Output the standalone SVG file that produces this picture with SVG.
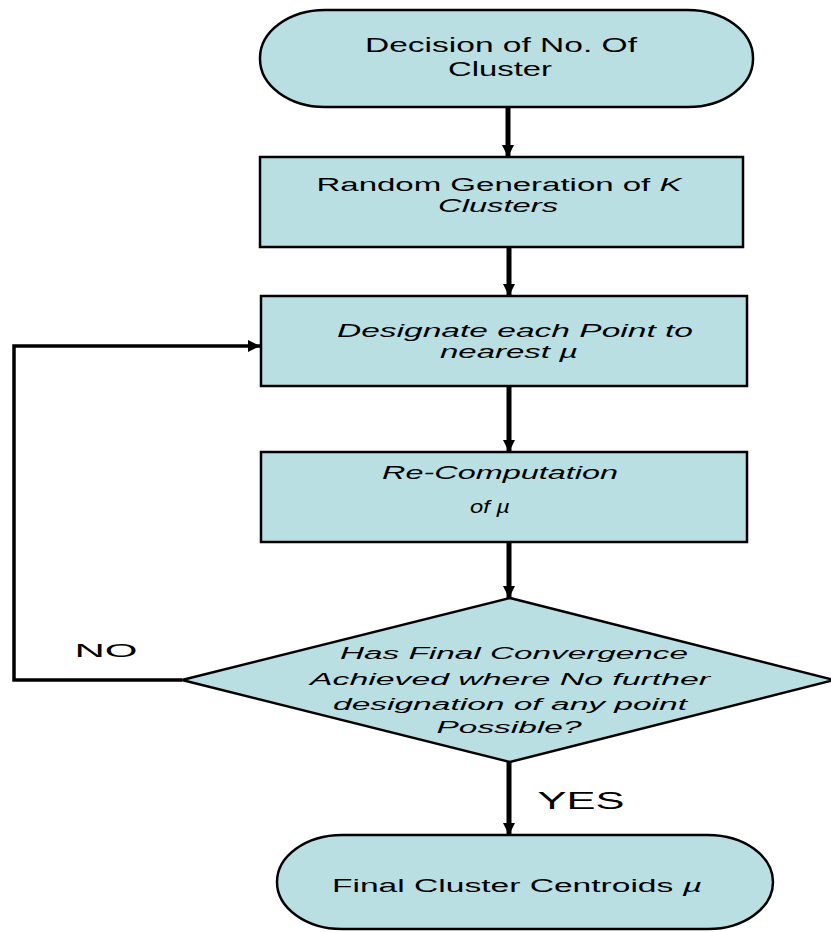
<svg xmlns="http://www.w3.org/2000/svg" width="831" height="932" viewBox="0 0 831 932">
<style>
.shape{fill:#BADFE3;stroke:#000;stroke-width:2.5}
.t{font-family:"Liberation Sans",Arial,sans-serif;fill:#000;text-anchor:middle}
.i{font-style:italic}
.conn{fill:none;stroke:#000}
</style>
<defs>
<marker id="ah" markerUnits="userSpaceOnUse" markerWidth="14" markerHeight="14" refX="12" refY="6" orient="auto">
<path d="M0,0 L12,6 L0,12 Z" fill="#000"/>
</marker>
</defs>
<rect width="831" height="932" fill="#fff"/>
<g id="connectors">
<line class="conn" x1="508" y1="107" x2="508" y2="157" stroke-width="5" marker-end="url(#ah)"/>
<line class="conn" x1="509" y1="247" x2="509" y2="296" stroke-width="5" marker-end="url(#ah)"/>
<line class="conn" x1="509" y1="386" x2="509" y2="452" stroke-width="5" marker-end="url(#ah)"/>
<line class="conn" x1="509" y1="542" x2="509" y2="598" stroke-width="5" marker-end="url(#ah)"/>
<line class="conn" x1="509" y1="762" x2="509" y2="835" stroke-width="5" marker-end="url(#ah)"/>
<polyline class="conn" points="182,680 14,680 14,346 260,346" stroke-width="3.5" marker-end="url(#ah)"/>
<text class="t" x="106" y="657" font-size="19" textLength="63" lengthAdjust="spacingAndGlyphs">NO</text>
<text class="t" x="581" y="809" font-size="24" textLength="87" lengthAdjust="spacingAndGlyphs">YES</text>
</g>
<g id="start">
<rect class="shape" x="260" y="10" width="493" height="97" rx="65" ry="48"/>
<text class="t" x="501" y="52" font-size="20" textLength="272" lengthAdjust="spacingAndGlyphs">Decision of No. Of</text>
<text class="t" x="500" y="76" font-size="20" textLength="104" lengthAdjust="spacingAndGlyphs">Cluster</text>
</g>
<g id="random">
<rect class="shape" x="260" y="157" width="483" height="90"/>
<text class="t" x="499" y="191" font-size="18" textLength="365" lengthAdjust="spacingAndGlyphs">Random Generation of <tspan class="i">K</tspan></text>
<text class="t i" x="498" y="212" font-size="18" textLength="120" lengthAdjust="spacingAndGlyphs">Clusters</text>
</g>
<g id="designate">
<rect class="shape" x="261" y="296" width="486" height="90"/>
<text class="t i" x="515" y="337" font-size="18" textLength="356" lengthAdjust="spacingAndGlyphs">Designate each Point to</text>
<text class="t i" x="509" y="358" font-size="18" textLength="138" lengthAdjust="spacingAndGlyphs">nearest µ</text>
</g>
<g id="recompute">
<rect class="shape" x="261" y="452" width="486" height="90"/>
<text class="t i" x="500" y="479" font-size="18" textLength="236" lengthAdjust="spacingAndGlyphs">Re-Computation</text>
<text class="t i" x="490" y="513" font-size="18" textLength="40" lengthAdjust="spacingAndGlyphs">of µ</text>
</g>
<g id="decision">
<polygon class="shape" points="510,598 834,680 510,762 182,680" stroke-width="3"/>
<text class="t i" x="514" y="659" font-size="16" textLength="348" lengthAdjust="spacingAndGlyphs">Has Final Convergence</text>
<text class="t i" x="510" y="685" font-size="16" textLength="400" lengthAdjust="spacingAndGlyphs">Achieved where No further</text>
<text class="t i" x="510" y="710" font-size="16" textLength="354" lengthAdjust="spacingAndGlyphs">designation of any point</text>
<text class="t i" x="509" y="733" font-size="16" textLength="145" lengthAdjust="spacingAndGlyphs">Possible?</text>
</g>
<g id="final">
<rect class="shape" x="277" y="835" width="496" height="94" rx="65" ry="47"/>
<text class="t" x="517" y="892" font-size="18" textLength="370" lengthAdjust="spacingAndGlyphs">Final Cluster Centroids <tspan class="i">µ</tspan></text>
</g>
</svg>
